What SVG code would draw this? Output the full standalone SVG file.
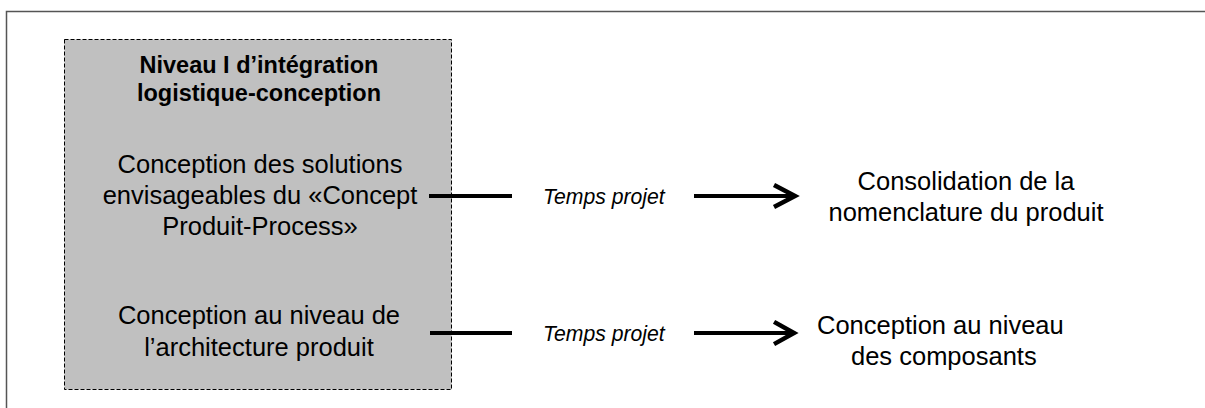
<svg xmlns="http://www.w3.org/2000/svg" width="1205" height="408" viewBox="0 0 1205 408">
  <style>
    .t { font-family: "Liberation Sans", Arial, sans-serif; font-size: 25.5px; fill: #000; }
    .b { font-family: "Liberation Sans", Arial, sans-serif; font-size: 23.5px; font-weight: bold; fill: #000; }
    .i { font-family: "Liberation Sans", Arial, sans-serif; font-size: 21.2px; font-style: italic; fill: #000; }
    .c { text-anchor: middle; }
    .ln { stroke: #000; stroke-width: 4; fill: none; }
    .hd { stroke: #000; stroke-width: 4.5; fill: none; stroke-linecap: square; stroke-linejoin: miter; }
  </style>
  <rect width="1205" height="408" fill="#fff"/>
  <path d="M6.5,408 V11.5 H1205" fill="none" stroke="#555" stroke-width="1.5"/>

  <g id="node-niveau">
    <rect x="64.5" y="39.5" width="387" height="350" fill="#c0c0c0" stroke="#000" stroke-width="1" stroke-dasharray="4,2"/>
    <text class="b c" x="259" y="73">Niveau I d’intégration</text>
    <text class="b c" x="259" y="101">logistique-conception</text>
    <text class="t c" x="260" y="173">Conception des solutions</text>
    <text class="t c" x="260" y="204">envisageables du «Concept</text>
    <text class="t c" x="260" y="235">Produit-Process»</text>
    <text class="t c" x="259" y="324">Conception au niveau de</text>
    <text class="t c" x="259" y="356">l’architecture produit</text>
  </g>

  <g id="node-consolidation">
    <text class="t c" x="966" y="190">Consolidation de la</text>
    <text class="t c" x="966" y="221">nomenclature du produit</text>
  </g>

  <g id="node-composants">
    <text class="t" x="817" y="334">Conception au niveau</text>
    <text class="t" x="851" y="365">des composants</text>
  </g>

  <g id="connectors">
    <line class="ln" x1="429" y1="196" x2="512" y2="196"/>
    <text class="i" x="543" y="204">Temps projet</text>
    <line class="ln" x1="694" y1="196" x2="795" y2="196"/>
    <polyline class="hd" points="776,186 795,196 776,206"/>

    <line class="ln" x1="430" y1="333" x2="512" y2="333"/>
    <text class="i" x="543" y="341">Temps projet</text>
    <line class="ln" x1="694" y1="333" x2="793" y2="333"/>
    <polyline class="hd" points="776,323 794,333 776,343"/>
  </g>
</svg>
